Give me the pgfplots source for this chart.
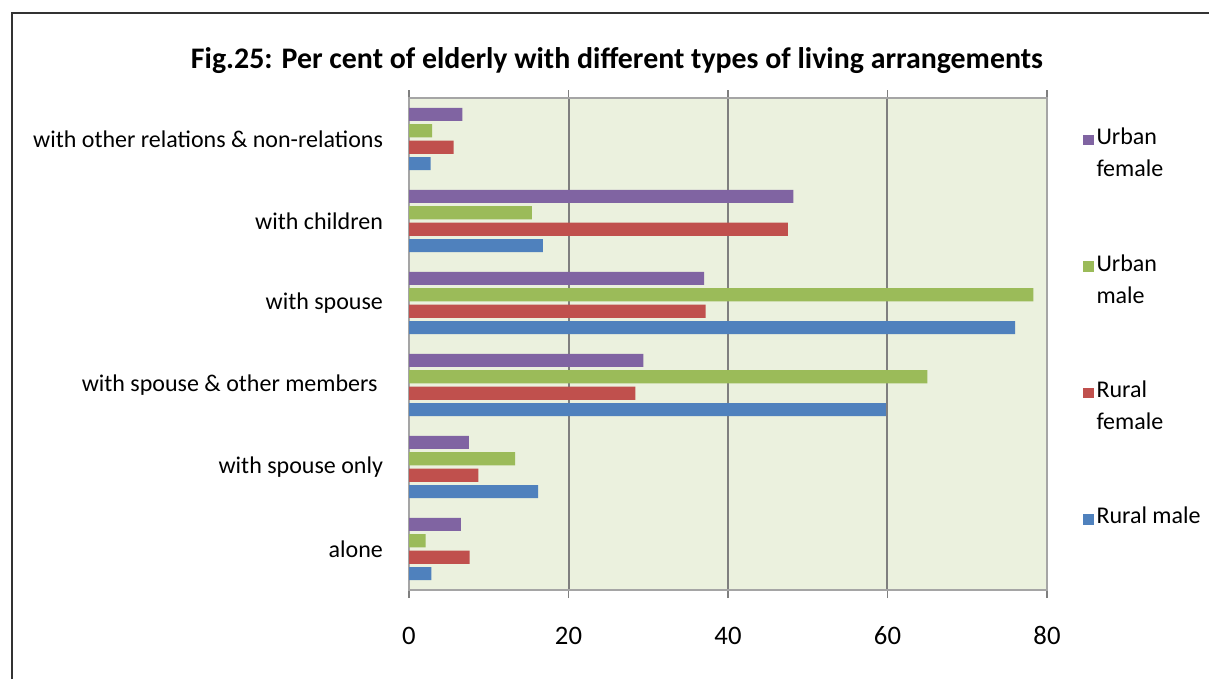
\documentclass[border=0pt]{standalone}
\usepackage{fontspec}
\setmainfont{Carlito}
\usepackage{pgfplots}
\pgfplotsset{compat=1.18}
\definecolor{ufem}{HTML}{8064A2}
\definecolor{umal}{HTML}{9BBB59}
\definecolor{rfem}{HTML}{C0504D}
\definecolor{rmal}{HTML}{4F81BD}
\definecolor{plotbg}{HTML}{EBF1DE}
\definecolor{gridc}{HTML}{7F7F7F}
\newcommand{\two}[2]{\begin{tabular}[t]{@{}l@{}}#1\\#2\end{tabular}}
\begin{document}
\begin{tikzpicture}
\path[use as bounding box] (0,0) rectangle (906.75pt,509.25pt);
\draw[line width=1.5pt, black!80] (9pt,0) -- (9pt,499.5pt) -- (906.75pt,499.5pt);
\begin{axis}[
  at={(306.75pt,66.75pt)}, anchor=south west,
  scale only axis, width=478.5pt, height=369pt,
  xbar, bar width=0.16,
  xmin=0, xmax=80, ymin=-0.5, ymax=5.5,
  xtick={0,20,40,60,80},
  ytick={0,1,2,3,4,5},
  yticklabels={alone, with spouse only, with spouse \& other members\ \ , with spouse, with children, with other relations \& non-relations},
  minor ytick={-0.5,0.5,1.5,2.5,3.5,4.5,5.5},
  ytick style={draw=none},
  minor tick style={draw=gridc, line width=1pt},
  minor tick length=6pt,
  major tick length=6pt,
  tick align=outside,
  xtick style={draw=gridc, line width=1pt},
  xmajorgrids, grid style={draw=gridc, line width=1.5pt},
  axis background/.style={fill=plotbg},
  axis line style={draw=gridc!70, line width=1pt},
  /pgf/number format/assume math mode=true,
  xticklabel style={font=\fontsize{20}{24}\selectfont, yshift=-18pt},
  yticklabel style={font=\fontsize{18}{22}\selectfont, xshift=-10pt},
  title={\textbf{Fig.25: Per cent of elderly with different types of living arrangements}},
  title style={font=\fontsize{22.4}{26}\selectfont, at={(0.326,1)}, anchor=south, yshift=9pt},
  reverse legend,
  legend cell align=left,
  legend image code/.code={\fill[#1] (-1pt,-0.5pt) rectangle (7pt,7.5pt);},
  legend style={at={(1.05,0.962)}, anchor=north west, draw=none, fill=none,
    font=\fontsize{18}{24}\selectfont, row sep=72.5pt,
    nodes={anchor=base west}},
]
\addplot[fill=rmal, draw=none, bar shift=-0.3] coordinates {(2.8,0) (16.2,1) (59.8,2) (76.0,3) (16.8,4) (2.7,5)};
\addlegendentry{\two{Rural male}{}}
\addplot[fill=rfem, draw=none, bar shift=-0.1] coordinates {(7.6,0) (8.7,1) (28.4,2) (37.2,3) (47.5,4) (5.6,5)};
\addlegendentry{\two{Rural}{female}}
\addplot[fill=umal, draw=none, bar shift=0.1] coordinates {(2.1,0) (13.3,1) (65.0,2) (78.3,3) (15.4,4) (2.9,5)};
\addlegendentry{\two{Urban}{male}}
\addplot[fill=ufem, draw=none, bar shift=0.3] coordinates {(6.5,0) (7.5,1) (29.4,2) (37.0,3) (48.2,4) (6.7,5)};
\addlegendentry{\two{Urban}{female}}
\end{axis}
\end{tikzpicture}
\end{document}
